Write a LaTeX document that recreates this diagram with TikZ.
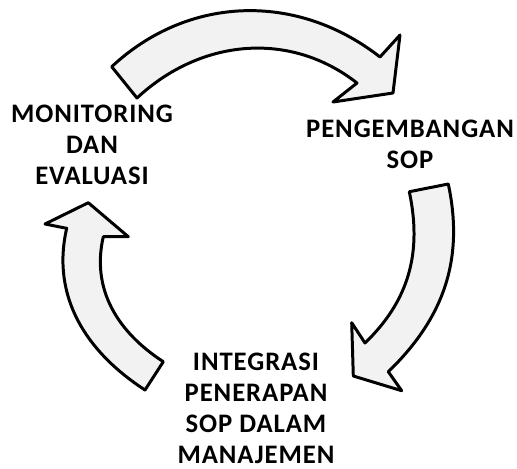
\documentclass[tikz,border=0pt]{standalone}
\usepackage{fontspec}
\setmainfont{Carlito}[LetterSpace=3.5]
\usetikzlibrary{positioning}

\definecolor{arrowfill}{HTML}{F2F2F2}
\tikzset{
  cyclearrow/.style={draw=black,fill=arrowfill,line width=1.7pt,line join=round},
  steplabel/.style={font=\bfseries\fontsize{15.2}{17.6}\selectfont,align=center,inner sep=0pt}
}

\begin{document}
\begin{tikzpicture}[x=0.02cm,y=0.02cm]
  \useasboundingbox (0,0) rectangle (517,-468);
  % top arrow: monitoring -> pengembangan
  \draw[cyclearrow] (111.7,-66.7) to[out=43,in=142] (380,-57) -- (400,-35) -- (393,-93)
    -- (333,-102) -- (357,-83) to[out=142,in=43] (137,-98) -- cycle;
  % right arrow: pengembangan -> integrasi
  \draw[cyclearrow] (448.3,-184) to[out=-78,in=44] (388.3,-371.7) -- (401.7,-390.7) -- (353.3,-376)
    -- (351.7,-322.7) -- (365,-343) to[out=44,in=-78] (409.3,-191.7) -- cycle;
  % left arrow: integrasi -> monitoring
  \draw[cyclearrow] (145,-390) to[out=147,in=-103] (66.7,-228.3) -- (45,-224) -- (88.3,-202.7)
    -- (128.3,-236.7) -- (103.3,-236.7) to[out=-103,in=147] (163.3,-361.7) -- cycle;
  \node[steplabel] (monev) at (92,-145) {MONITORING\\DAN\\EVALUASI};
  \node[steplabel] (pengembangan) at (410,-144) {PENGEMBANGAN\\SOP};
  \node[steplabel] (integrasi) at (256,-408) {INTEGRASI\\PENERAPAN\\SOP DALAM\\MANAJEMEN};
\end{tikzpicture}
\end{document}
